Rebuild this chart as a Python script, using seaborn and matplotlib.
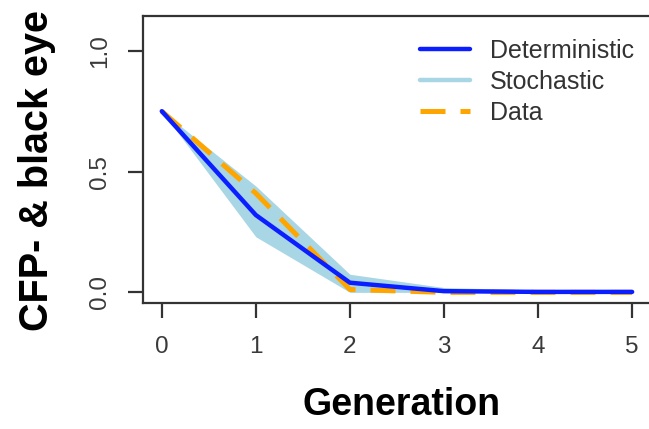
import matplotlib
matplotlib.use("Agg")
import matplotlib.pyplot as plt
from matplotlib.lines import Line2D
import seaborn as sns
import pandas as pd

# values
generation = [0, 1, 2, 3, 4, 5]
deterministic = [0.75, 0.32, 0.04, 0.005, 0.002, 0.002]
stoch_low = [0.75, 0.23, 0.0, 0.0, 0.0, 0.0]
stoch_high = [0.75, 0.44, 0.075, 0.02, 0.01, 0.01]
data_obs = [0.75, 0.41, 0.012, 0.0, 0.0, 0.0]

df = pd.DataFrame({"gen": generation, "det": deterministic, "obs": data_obs})

sns.set_style("ticks")
plt.rcParams["font.family"] = ["Liberation Sans", "DejaVu Sans"]

fig = plt.figure(figsize=(6.49, 4.29), dpi=100)
ax = fig.add_axes([0.2203, 0.2937, 0.7827, 0.669])

ax.fill_between(generation, stoch_low, stoch_high, color="#a9d6e5", lw=0, zorder=1)
sns.lineplot(data=df, x="gen", y="det", ax=ax, color="#0a1eff", lw=3.2, zorder=3)
sns.lineplot(data=df, x="gen", y="obs", ax=ax, color="#ffa500", lw=3.6, zorder=2,
             dashes=False, linestyle=(0, (5, 3)))

ax.set_xlim(-0.2, 5.2)
ax.set_ylim(-0.044, 1.144)
ax.set_xticks(generation)
ax.set_yticks([0.0, 0.5, 1.0])
ax.set_yticklabels(["0.0", "0.5", "1.0"])
ax.set_xlabel("")
ax.set_ylabel("")

for s in ["top", "left", "bottom", "right"]:
    ax.spines[s].set_color("#333333")
    ax.spines[s].set_linewidth(1.6)

ax.tick_params(direction="out", length=11, width=1.6, color="#333333",
               labelsize=17.5, labelcolor="#3a3a3a")
ax.tick_params(axis="x", pad=13)
ax.tick_params(axis="y", pad=12, labelrotation=90)
for t in ax.get_yticklabels():
    t.set_va("center")

handles = [
    Line2D([], [], color="#0a1eff", lw=3.2),
    Line2D([], [], color="#a9d6e5", lw=3.2),
    Line2D([], [], color="#ffa500", lw=3.6, linestyle=(0, (5, 3))),
]
fig.legend(handles, ["Deterministic", "Stochastic", "Data"],
           loc="upper left", bbox_to_anchor=(420 / 649, 1 - 39 / 429),
           frameon=False, fontsize=18, handlelength=2.0, handletextpad=0.8,
           labelspacing=0.28, borderpad=0, borderaxespad=0,
           labelcolor="#333333")

fig.text(0.057, 1 - 331 / 429, "CFP- & black eye", rotation=90,
         ha="center", va="bottom", fontsize=28.5, fontweight="bold", color="black")
fig.text(0.6194, 1 - 415 / 429, "Generation", ha="center", va="baseline",
         fontsize=27, fontweight="bold", color="black")

fig.savefig("out.png", dpi=100)
